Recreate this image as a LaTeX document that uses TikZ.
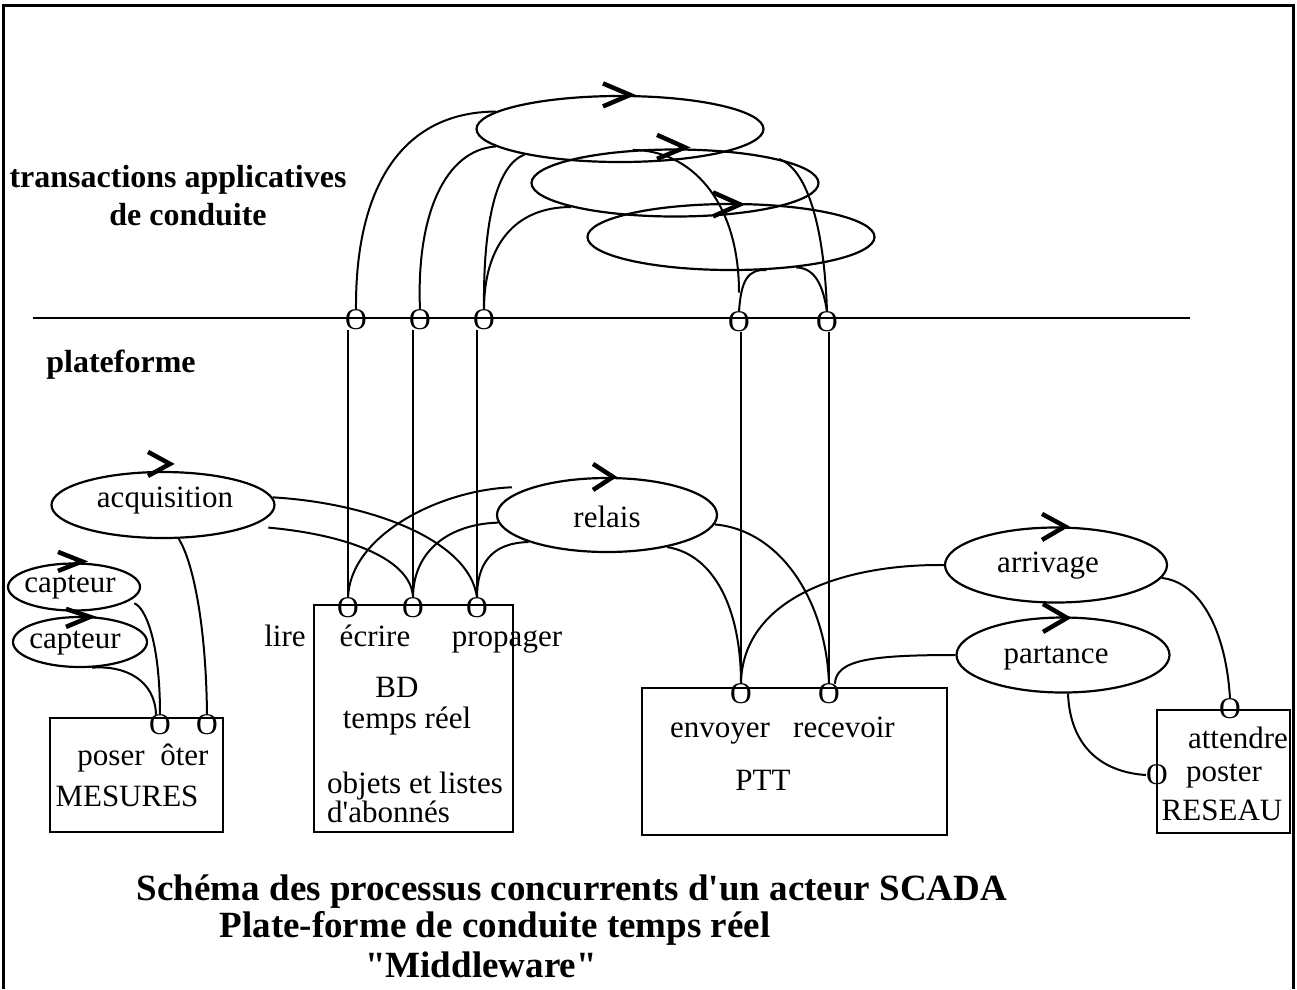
\documentclass[tikz,border=0pt]{standalone}
\usepackage{fontspec}
\setmainfont{Liberation Serif}
\usetikzlibrary{shapes.geometric}

\begin{document}
\begin{tikzpicture}[x=1pt,y=-1pt,
  every node/.style={inner sep=0pt},
  tlabel/.style={font=\fontsize{31}{34}\selectfont, anchor=base},
  thead/.style={font=\fontsize{32}{36}\selectfont\bfseries, anchor=base},
  ttitle/.style={font=\fontsize{37}{40}\selectfont\bfseries, anchor=base},
  tport/.style={font=\fontsize{30}{34}\selectfont},
  procell/.style={draw, ellipse, line width=2.2pt},
  pbox/.style={draw, rectangle, line width=2.2pt},
  wire/.style={line width=2pt},
  chevron/.style={line width=4.5pt, line join=miter},
]
\useasboundingbox (0,0) rectangle (1297,989);

% outer frame
\draw[line width=3pt] (3,989) -- (3,5) -- (1293,5) -- (1293,989);

% layer headings and separating line
\node[thead] (hdA) at (178,187) {transactions applicatives};
\node[thead] (hdB) at (188,225) {de conduite};
\node[thead] (hdC) at (121,372) {plateforme};
\draw[wire] (33,318) -- (1190,318);

% transaction processes
\node[procell, minimum width=287pt, minimum height=66pt] (E1) at (620,129) {};
\node[procell, minimum width=287pt, minimum height=67pt] (E2) at (675,183) {};
\node[procell, minimum width=287pt, minimum height=66pt] (E3) at (731,237) {};
\draw[chevron] ([xshift=-17pt,yshift=11.5pt]E1.north) -- ([xshift=10pt]E1.north) -- ([xshift=-17pt,yshift=-11.5pt]E1.north);
\draw[chevron] ([xshift=-18pt,yshift=13.5pt]E2.north) -- ([xshift=10pt,yshift=1pt]E2.north) -- ([xshift=-18pt,yshift=-10.5pt]E2.north);
\draw[chevron] ([xshift=-18pt,yshift=10.5pt]E3.north) -- ([xshift=9pt,yshift=-1.5pt]E3.north) -- ([xshift=-18pt,yshift=-13.5pt]E3.north);

% ports on the platform line
\node[tport] (t1) at (356,320) {O};
\node[tport] (t2) at (420,320) {O};
\node[tport] (t3) at (484,320) {O};
\node[tport] (t4) at (739,322) {O};
\node[tport] (t5) at (827,322) {O};

% transactions to platform ports
\draw[wire] (t1.north) .. controls (355,190) and (400,112) .. (E1.172);
\draw[wire] (t2.north) .. controls (416,215) and (445,150) .. (E1.188);
\draw[wire] (t3.north) .. controls (483,220) and (497,165) .. (E1.195);
\draw[wire] (t3.north) .. controls (484,245) and (515,207) .. (E2.193);
\draw[wire] (E2.142) .. controls (690,150) and (739,200) .. ([yshift=19pt]t4.north);
\draw[wire] (t4.north) .. controls (741,280) and (748,269) .. (E3.317);
\draw[wire] (E3.335) .. controls (815,268) and (823,285) .. (t5.north);
\draw[wire] (E2.13) .. controls (805,168) and (824,220) .. (t5.north);

% platform processes
\node[procell, minimum width=223pt, minimum height=66pt] (acq) at (163,505) {};
\node[procell, minimum width=132pt, minimum height=47pt] (c1) at (74,587) {};
\node[procell, minimum width=134pt, minimum height=50pt] (c2) at (80,642) {};
\node[procell, minimum width=220pt, minimum height=74pt] (relais) at (607,515) {};
\node[procell, minimum width=222pt, minimum height=75pt] (arr) at (1056,565) {};
\node[procell, minimum width=213pt, minimum height=75pt] (part) at (1063,655) {};
\node[tlabel] (acqT) at (165,507) {acquisition};
\node[tlabel] (c1T) at (70,592) {capteur};
\node[tlabel] (c2T) at (75,648) {capteur};
\node[tlabel] (relaisT) at (607,527) {relais};
\node[tlabel] (arrT) at (1048,572) {arrivage};
\node[tlabel] (partT) at (1056,663) {partance};
\draw[chevron] ([xshift=-15pt,yshift=19pt]acq.north) -- ([xshift=7pt,yshift=7pt]acq.north) -- ([xshift=-15pt,yshift=-5pt]acq.north);
\draw[chevron] ([xshift=-16pt,yshift=10.5pt]c1.north) -- ([xshift=8pt,yshift=1pt]c1.north) -- ([xshift=-16pt,yshift=-8.5pt]c1.north);
\draw[chevron] ([xshift=-14pt,yshift=7pt]c2.north) -- ([xshift=10pt,yshift=-1pt]c2.north) -- ([xshift=-14pt,yshift=-11pt]c2.north);
\draw[chevron] ([xshift=-14pt,yshift=13pt]relais.north) -- ([xshift=6pt]relais.north) -- ([xshift=-14pt,yshift=-13pt]relais.north);
\draw[chevron] ([xshift=-14pt,yshift=12.5pt]arr.north) -- ([xshift=9pt]arr.north) -- ([xshift=-14pt,yshift=-13.5pt]arr.north);
\draw[chevron] ([xshift=-20pt,yshift=12.5pt]part.north) -- ([xshift=4pt,yshift=-1.5pt]part.north) -- ([xshift=-20pt,yshift=-15.5pt]part.north);

% resources
\node[pbox, minimum width=173pt, minimum height=114pt] (mes) at (136.5,775) {};
\node[pbox, minimum width=199pt, minimum height=227pt] (bd) at (413.5,718.5) {};
\node[pbox, minimum width=305pt, minimum height=147pt] (ptt) at (794.5,761.5) {};
\node[pbox, minimum width=133pt, minimum height=123pt] (res) at (1223.5,771.5) {};

% resource ports
\node[tport] (m1) at (160,725) {O};
\node[tport] (m2) at (207,725) {O};
\node[tport] (b1) at (348,608) {O};
\node[tport] (b2) at (413,608) {O};
\node[tport] (b3) at (477,608) {O};
\node[tport] (q1) at (741,694) {O};
\node[tport] (q2) at (829,694) {O};
\node[tport] (r1) at (1230,709) {O};
\node[tport] (r2) at (1157,775) {O};

% resource texts
\node[tlabel] (txPoser) at (143,765) {poser \hspace{8pt}ôter};
\node[tlabel] (txMes) at (127,806) {MESURES};
\node[tlabel] (txLire) at (285,646) {lire};
\node[tlabel] (txEcr) at (375,646) {écrire};
\node[tlabel] (txProp) at (507,646) {propager};
\node[tlabel] (txBD) at (397,697) {BD};
\node[tlabel] (txTR) at (407,728) {temps réel};
\node[tlabel, anchor=base west] (txObj) at (327,793) {objets et listes};
\node[tlabel, anchor=base west] (txAbo) at (327,822) {d\textquotesingle abonnés};
\node[tlabel] (txEnv) at (720,737) {envoyer};
\node[tlabel] (txRec) at (844,737) {recevoir};
\node[tlabel] (txPTT) at (763,790) {PTT};
\node[tlabel] (txAtt) at (1238,748) {attendre};
\node[tlabel] (txPost) at (1224,781) {poster};
\node[tlabel] (txRes) at (1222,820) {RESEAU};

% platform line ports down to resource ports
\draw[wire] (b1.north |- t1.south) -- (b1.north);
\draw[wire] (b2.north |- t2.south) -- (b2.north);
\draw[wire] (b3.north |- t3.south) -- (b3.north);
\draw[wire] (q1.north |- t4.south) -- (q1.north);
\draw[wire] (q2.north |- t5.south) -- (q2.north);

% process to resource connectors
\draw[wire] ([xshift=10pt]c1.342) .. controls (145,607) and (160,640) .. (m1.north);
\draw[wire] (c2.295) .. controls (125,665) and (155,680) .. ([xshift=-4pt]m1.north);
\draw[wire] (acq.295) .. controls (192,560) and (206,620) .. (m2.north);
\draw[wire] (acq.4) .. controls (370,503) and (470,540) .. (b3.north);
\draw[wire] ([xshift=21pt]acq.345) .. controls (350,535) and (412,560) .. (b2.north);
\draw[wire] ([xshift=-19pt]relais.160) .. controls (440,490) and (350,535) .. (b1.north);
\draw[wire] (relais.184) .. controls (450,524) and (413,550) .. (b2.north);
\draw[wire] (relais.199) .. controls (490,543) and (477,565) .. (b3.north);
\draw[wire] (relais.332) .. controls (715,555) and (741,610) .. (q1.north);
\draw[wire] (relais.355) .. controls (780,530) and (826,600) .. (q2.north);
\draw[wire] (arr.west) .. controls (840,564) and (742,600) .. (q1.north);
\draw[wire] (part.west) .. controls (870,655) and (836,660) .. (q2.60);
\draw[wire] (arr.353) .. controls (1200,582) and (1226,630) .. (r1.north);
\draw[wire] ([xshift=5pt]part.south) .. controls (1070,745) and (1100,772) .. (r2.west);

% caption
\node[ttitle] (cap1) at (572,900) {Schéma des processus concurrents d\textquotesingle un acteur SCADA};
\node[ttitle] (cap2) at (495,937) {Plate-forme de conduite temps réel};
\node[ttitle] (cap3) at (481,977) {\textquotedbl Middleware\textquotedbl};
\end{tikzpicture}
\end{document}
